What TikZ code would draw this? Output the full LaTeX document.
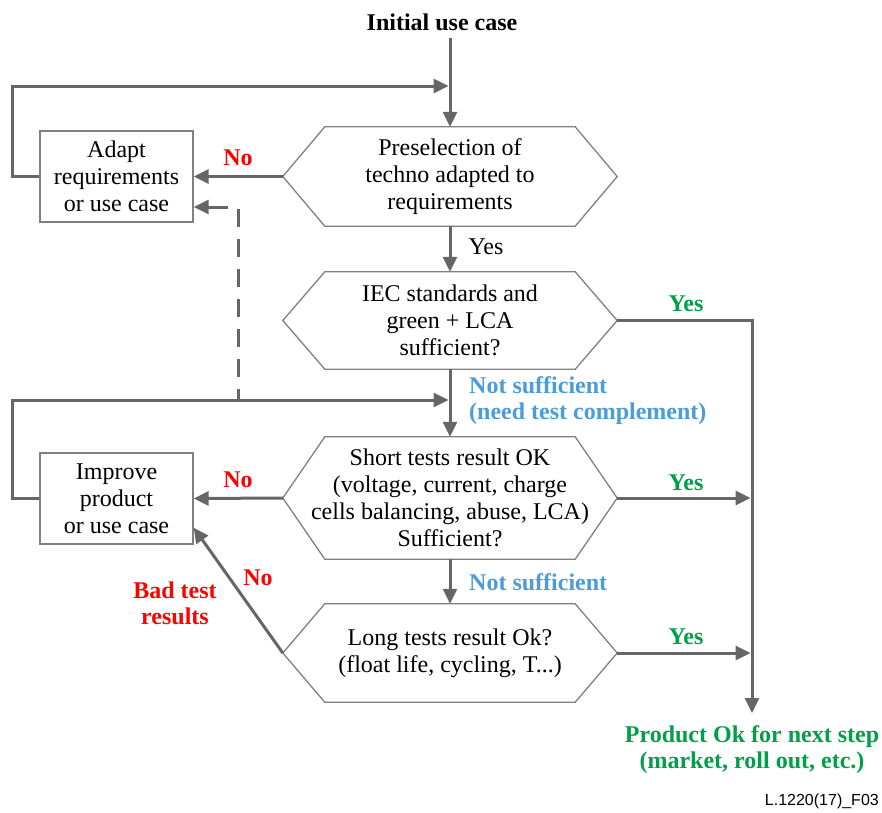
\documentclass[tikz,border=0pt]{standalone}
\usepackage{fontspec}
\setmainfont{Liberation Serif}
\setsansfont{Liberation Sans}
\usetikzlibrary{arrows.meta,calc}
\definecolor{ln}{HTML}{666666}
\definecolor{sh}{HTML}{808080}
\definecolor{rd}{HTML}{FF0000}
\definecolor{gn}{HTML}{00A04B}
\definecolor{bl}{HTML}{4B9CD8}
\newcommand\hexdraw[1]{\draw[draw=sh,line width=1.3pt,line join=miter] (#1.west) -- ($(#1.north west)+(42,0)$) -- ($(#1.north east)+(-42,0)$) -- (#1.east) -- ($(#1.south east)+(-42,0)$) -- ($(#1.south west)+(42,0)$) -- cycle;}
\begin{document}
\begin{tikzpicture}[x=1pt,y=-1pt,
  conn/.style={draw=ln, line width=3pt, -{Triangle[length=15pt,width=14pt]}},
  plain/.style={draw=ln, line width=3pt},
  txt/.style={font=\fontsize{24}{27}\selectfont},
  hexnode/.style={txt, minimum width=334pt, inner sep=0pt, align=center},
  boxnode/.style={txt, draw=sh, line width=1.3pt, minimum width=153pt, minimum height=91pt, inner sep=0pt, align=center},
  lab/.style={font=\bfseries\fontsize{24}{26}\selectfont, inner sep=0pt, align=center},
  lableft/.style={lab, align=left, anchor=west}
]
\useasboundingbox (0,0) rectangle (882,812);

% nodes
\node[lab] (title) at (442,22) {Initial use case};
\node[hexnode, minimum height=99pt] (hex1) at (450,176.5) {Preselection of\\techno adapted to\\requirements};
\node[hexnode, minimum height=97pt] (hex2) at (450,320.5) {IEC standards and\\green + LCA\\sufficient?};
\node[hexnode, minimum height=122pt] (hex3) at (450,498) {Short tests result OK\\(voltage, current, charge\\cells balancing, abuse, LCA)\\Sufficient?};
\node[hexnode, minimum height=98pt] (hex4) at (450,653) {Long tests result Ok?\\(float life, cycling, T...)};
\hexdraw{hex1}
\hexdraw{hex2}
\hexdraw{hex3}
\hexdraw{hex4}
\node[boxnode] (box1) at (116.5,176.5) {Adapt\\requirements\\or use case};
\node[boxnode] (box2) at (116.5,498.5) {Improve\\product\\or use case};
\node[lab, text=gn] (fin) at (752,750) {Product Ok for next step\\(market, roll out, etc.)};
\node[font=\sffamily\fontsize{16}{18}\selectfont, anchor=east, inner sep=0pt] (ref) at (879,801) {L.1220(17)\_F03};

% coordinates
\coordinate (t0) at (450,38);
\coordinate (j1) at (450,86);
\coordinate (j2) at (450,400);
\coordinate (d1) at (238,400);
\coordinate (d2) at (238,209);
\coordinate (d3) at (228,207);
\coordinate (v0) at (752,713);

% connectors
\draw[conn] (t0) -- (hex1.north);
\draw[conn, shorten >=1.5pt] (box1.west) -- ++(-27,0) |- (j1);
\draw[conn] (hex1.west) -- (box1.east);
\draw[plain, dash pattern=on 18pt off 12pt] (d2) -- (d1);
\draw[conn] (d3) -- (box1.east |- d3);
\draw[conn] (hex1.south) -- (hex2.north);
\draw[conn] (hex2.east) -| (v0);
\draw[conn] (hex2.south) -- (hex3.north);
\draw[conn, shorten >=1.5pt] (box2.west) -- ++(-27,0) |- (j2);
\draw[conn] (hex3.west) -- (box2.east);
\draw[conn, shorten >=1.5pt] (hex3.east) -- (hex3.east -| v0);
\draw[conn] (hex3.south) -- (hex4.north);
\draw[conn, shorten >=1.5pt] (hex4.east) -- (hex4.east -| v0);
\draw[conn] (hex4.west) -- ([yshift=17pt]box2.south east);

% labels
\node[lab, text=rd] (no1) at (238,158) {No};
\node[txt, inner sep=0pt] (yes1) at (486,247) {Yes};
\node[lab, text=gn] (yes2) at (686,304) {Yes};
\node[lableft, text=bl] (ns1) at (469,401) {Not sufficient\\(need test complement)};
\node[lab, text=rd] (no2) at (238,480) {No};
\node[lab, text=gn] (yes3) at (686,483) {Yes};
\node[lableft, text=bl] (ns2) at (469,582) {Not sufficient};
\node[lab, text=gn] (yes4) at (686,637) {Yes};
\node[lab, text=rd] (no3) at (258,578) {No};
\node[lab, text=rd] (bad) at (175,603) {Bad test\\results};
\end{tikzpicture}
\end{document}
